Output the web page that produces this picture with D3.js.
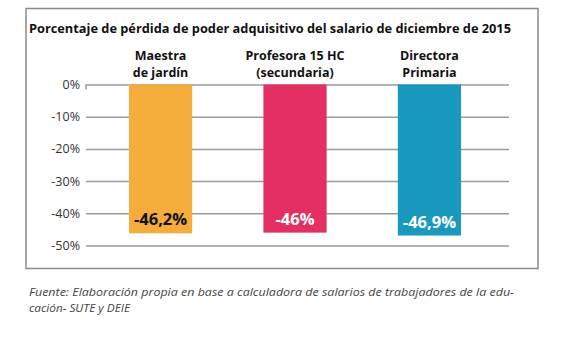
<!DOCTYPE html>
<html><head><meta charset="utf-8">
<script src="https://cdn.jsdelivr.net/npm/d3@7"></script>
<style>body{margin:0;background:#fff}svg{display:block}</style>
</head><body>
<svg id="c" width="572" height="338"></svg>
<script>
const categories = [["Maestra","de jardín"],["Profesora 15 HC","(secundaria)"],["Directora","Primaria"]];
const values = [-46.2, -46, -46.9];
const valueLabels = ["-46,2%","-46%","-46,9%"];
const colors = ["#F5AC3B","#E32F61","#1A99BE"];
const labelColors = ["#111","#fff","#fff"];
const yTicks = [0,-10,-20,-30,-40,-50];
const title = "Porcentaje de pérdida de poder adquisitivo del salario de diciembre de 2015";
const source = ["Fuente: Elaboración propia en base a calculadora de salarios de trabajadores de la edu-","cación- SUTE y DEIE"];

const font = "'Open Sans', 'DejaVu Sans', sans-serif";
const svg = d3.select("#c");

svg.append("rect").attr("x",26).attr("y",8.5).attr("width",512).attr("height",260)
  .attr("fill","#fff").attr("stroke","#8a8a8a").attr("stroke-width",1.5);

svg.append("text").attr("x",29).attr("y",33).text(title)
  .attr("font-family",font).attr("font-weight",700).attr("font-size",13.2).attr("fill","#111")
  .attr("textLength",482).attr("lengthAdjust","spacingAndGlyphs");

const y = d3.scaleLinear().domain([0,-50]).range([84.5,245.5]);
const idx = categories.map((d,i)=>i);
const x = d3.scaleBand().domain(idx).range([81,509]).paddingInner(0.53).paddingOuter(0.357);

const g = svg.append("g");
const yAxis = d3.axisLeft(y).tickValues(yTicks).tickSize(-(509-86)).tickFormat(d=>d+"%");
const ax = g.append("g").attr("transform","translate(86,0)").call(yAxis);
ax.select(".domain").remove();
ax.selectAll(".tick line").attr("stroke","#9a9a9a").attr("stroke-width",1.5);
ax.selectAll(".tick text").attr("x",-6).attr("font-family",font).attr("font-size",12.5).attr("fill","#333");
g.append("line").attr("x1",86).attr("x2",86).attr("y1",y(0)).attr("y2",y(0)+5).attr("stroke","#9a9a9a").attr("stroke-width",1.5);

g.selectAll("rect.bar").data(values).join("rect").attr("class","bar")
  .attr("x",(d,i)=>x(i)).attr("width",x.bandwidth())
  .attr("y",y(0)).attr("height",d=>y(d)-y(0)).attr("fill",(d,i)=>colors[i]);

g.selectAll("text.val").data(values).join("text").attr("class","val")
  .attr("x",(d,i)=>x(i)+x.bandwidth()/2).attr("y",d=>y(d)-8)
  .attr("text-anchor","middle").attr("font-family",font).attr("font-weight",700)
  .attr("font-size",16.5).attr("fill",(d,i)=>labelColors[i]).text((d,i)=>valueLabels[i]);

categories.forEach((lines,i)=>{
  lines.forEach((s,j)=>{
    svg.append("text").attr("x",x(i)+x.bandwidth()/2).attr("y",59.8+j*17.2)
      .attr("text-anchor","middle").attr("font-family",font)
      .attr("font-weight",700).attr("font-size",12.5).attr("fill","#111").text(s);
  });
});

const srcLen = [485, 101];
source.forEach((t,j)=>{
  svg.append("text").attr("x",29).attr("y",296+j*16).text(t)
    .attr("font-family",font).attr("font-style","italic").attr("font-size",11.3).attr("fill","#444")
    .attr("textLength",srcLen[j]).attr("lengthAdjust","spacingAndGlyphs");
});
</script>
</body></html>
